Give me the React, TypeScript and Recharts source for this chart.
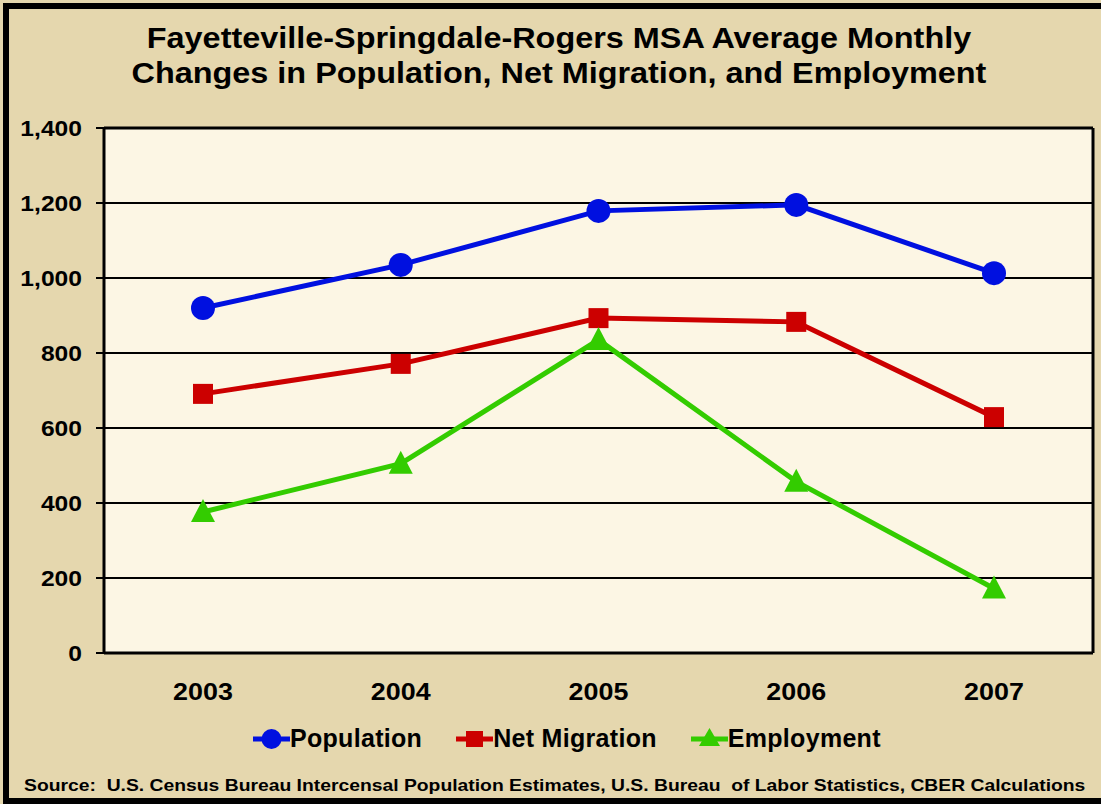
import { LineChart, Line, XAxis, YAxis, CartesianGrid, ReferenceLine } from 'recharts'

const years = ['2003', '2004', '2005', '2006', '2007']
const population = [920, 1035, 1179, 1195, 1013]
const netMigration = [691, 771, 893, 883, 629]
const employment = [376, 505, 835, 457, 172]
const yTicks = [0, 200, 400, 600, 800, 1000, 1200, 1400]

const data = years.map((y, i) => ({ year: y, pop: population[i], mig: netMigration[i], emp: employment[i] }))

const FONT = '"Liberation Sans", Arial, sans-serif'
const BLUE = '#0010e0'
const RED = '#cc0000'
const GREEN = '#33cc00'
const TAN = '#e5d7ae'
const CREAM = '#fcf6e4'
// the source picture is stretched a little sideways
const STRETCH = 1.12

const fmt = (v: number) => v.toLocaleString('en-US')

const circleDot = (p: any) => <circle key={p.index} cx={p.cx} cy={p.cy} r={12} fill={BLUE} />
const squareDot = (p: any) => <rect key={p.index} x={p.cx - 10} y={p.cy - 10} width={20} height={20} fill={RED} />
const triDot = (p: any) => (
  <polygon key={p.index} fill={GREEN}
    points={`${p.cx},${p.cy - 13} ${p.cx + 12},${p.cy + 10} ${p.cx - 12},${p.cy + 10}`} />
)

const YTick = (p: any) => (
  <text transform={`translate(${p.x},${p.y}) scale(${STRETCH},1)`} textAnchor="end" dy="0.355em"
    fill="#000" fontSize={22} fontWeight={700} fontFamily={FONT}>{fmt(p.payload.value)}</text>
)
const XTick = (p: any) => (
  <text transform={`translate(${p.x},${p.y}) scale(${STRETCH},1)`} textAnchor="middle" dy="0.71em"
    fill="#000" fontSize={24} fontWeight={700} fontFamily={FONT}>{p.payload.value}</text>
)

function LegendItem({ color, label, shape }: { color: string; label: string; shape: 'circle' | 'square' | 'tri' }) {
  return (
    <span style={{ display: 'inline-flex', alignItems: 'center' }}>
      <svg width={37} height={26}>
        <line x1={0} y1={13} x2={37} y2={13} stroke={color} strokeWidth={5} />
        {shape === 'circle' && <circle cx={18.5} cy={13} r={10} fill={color} />}
        {shape === 'square' && <rect x={10} y={5} width={17} height={16} fill={color} />}
        {shape === 'tri' && <polygon points="18.5,2 29,20 8,20" fill={color} />}
      </svg>
      <span>{label}</span>
    </span>
  )
}

export default function App() {
  return (
    <div style={{ position: 'fixed', left: 0, top: 0, width: 1101, height: 804, background: TAN, overflow: 'hidden', fontFamily: FONT }}>
      <div style={{ position: 'absolute', left: 3, top: 3, width: 1120, height: 801, boxSizing: 'border-box', border: '6px solid #000' }} />
      <div style={{ position: 'absolute', left: 0, width: 1118, top: 21, textAlign: 'center', fontWeight: 700, fontSize: 29, lineHeight: '35px', color: '#000', transform: 'scaleX(1.117)', transformOrigin: '559px 0' }}>
        Fayetteville-Springdale-Rogers MSA Average Monthly<br />Changes in Population, Net Migration, and Employment
      </div>
      <div style={{ position: 'absolute', left: 0, top: 0 }}>
        <LineChart width={1101} height={804} data={data} margin={{ top: 128, right: 0, bottom: 91, left: 0 }}>
          <CartesianGrid vertical={false} stroke="#000" strokeWidth={2} fill={CREAM} fillOpacity={1} />
          <XAxis dataKey="year" padding={{ left: 99, right: 99 }} tickLine={false} tickSize={0} tickMargin={30} height={60}
            axisLine={{ stroke: '#000', strokeWidth: 3 }} tick={<XTick />} />
          <YAxis domain={[0, 1400]} ticks={yTicks} width={104} tickSize={8} tickMargin={14}
            axisLine={{ stroke: '#000', strokeWidth: 3 }} tickLine={{ stroke: '#000', strokeWidth: 2 }} tick={<YTick />} />
          <YAxis yAxisId="r" orientation="right" domain={[0, 1400]} width={8} tick={false} tickLine={false}
            axisLine={{ stroke: '#000', strokeWidth: 3 }} />
          <ReferenceLine y={1400} stroke="#000" strokeWidth={3} />
          <Line dataKey="pop" stroke={BLUE} strokeWidth={5} dot={circleDot} activeDot={false} isAnimationActive={false} />
          <Line dataKey="mig" stroke={RED} strokeWidth={5} dot={squareDot} activeDot={false} isAnimationActive={false} />
          <Line dataKey="emp" stroke={GREEN} strokeWidth={5} dot={triDot} activeDot={false} isAnimationActive={false} />
        </LineChart>
      </div>
      <div style={{ position: 'absolute', left: 253, top: 724, display: 'flex', gap: 34, fontSize: 25, fontWeight: 700, letterSpacing: 0.3, color: '#000' }}>
        <LegendItem color={BLUE} label="Population" shape="circle" />
        <LegendItem color={RED} label="Net Migration" shape="square" />
        <LegendItem color={GREEN} label="Employment" shape="tri" />
      </div>
      <div style={{ position: 'absolute', left: 24, top: 776, fontSize: 17, fontWeight: 700, color: '#000', whiteSpace: 'pre', transform: 'scaleX(1.136)', transformOrigin: '0 0' }}>
        {'Source:  U.S. Census Bureau Intercensal Population Estimates, U.S. Bureau  of Labor Statistics, CBER Calculations'}
      </div>
    </div>
  )
}
